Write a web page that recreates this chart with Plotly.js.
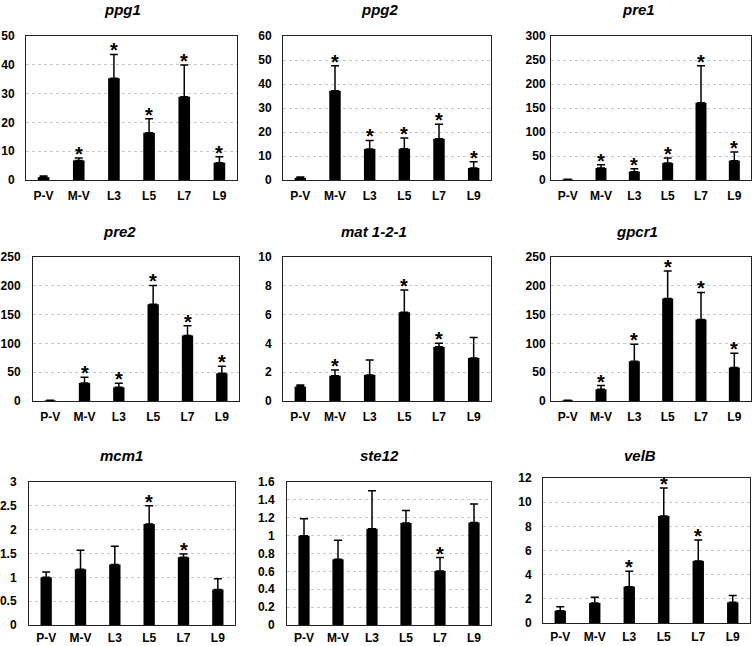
<!DOCTYPE html>
<html>
<head>
<meta charset="utf-8">
<script src="https://cdn.plot.ly/plotly-3.0.1.min.js"></script>
<style>html,body{margin:0;padding:0;background:#fff;}#chart{width:755px;height:646px;}</style>
</head>
<body>
<div id="chart"></div>
<script>
const categories = ['P-V', 'M-V', 'L3', 'L5', 'L7', 'L9'];
const genes = ['ppg1', 'ppg2', 'pre1', 'pre2', 'mat 1-2-1', 'gpcr1', 'mcm1', 'ste12', 'velB'];

const ppg1Mean = [1.0, 6.8, 35.3, 16.4, 28.9, 6.0];
const ppg1Err  = [0.4, 0.8, 8.3, 4.9, 11.0, 2.1];
const ppg1Sig  = [0, 1, 1, 1, 1, 1];

const ppg2Mean = [0.9, 37.2, 12.9, 13.0, 17.2, 5.0];
const ppg2Err  = [0.3, 10.4, 3.6, 4.5, 6.0, 2.6];
const ppg2Sig  = [0, 1, 1, 1, 1, 1];

const pre1Mean = [1.0, 25.0, 17.4, 35.4, 161, 40.3];
const pre1Err  = [0.5, 7.0, 6.2, 10.4, 77, 18];
const pre1Sig  = [0, 1, 1, 1, 1, 1];

const pre2Mean = [1.0, 31.3, 23.8, 168, 113.7, 48];
const pre2Err  = [0.5, 9.9, 6.9, 32.7, 16.8, 12.3];
const pre2Sig  = [0, 1, 1, 1, 1, 1];

const matMean = [1.0, 1.76, 1.81, 6.17, 3.76, 2.99];
const matErr  = [0.11, 0.40, 1.04, 1.53, 0.25, 1.42];
const matSig  = [0, 1, 0, 1, 1, 0];

const gpcr1Mean = [1.0, 20.3, 69, 178, 141.5, 58];
const gpcr1Err  = [0.5, 6.4, 29.6, 47.6, 47, 25];
const gpcr1Sig  = [0, 1, 1, 1, 1, 1];

const mcm1Mean = [1.0, 1.17, 1.27, 2.12, 1.42, 0.745];
const mcm1Err  = [0.11, 0.40, 0.38, 0.38, 0.07, 0.225];
const mcm1Sig  = [0, 0, 0, 1, 1, 0];

const ste12Mean = [1.0, 0.735, 1.077, 1.14, 0.605, 1.147];
const ste12Err  = [0.19, 0.212, 0.426, 0.14, 0.149, 0.208];
const ste12Sig  = [0, 0, 0, 0, 1, 0];

const velBMean = [1.02, 1.66, 3.01, 8.85, 5.14, 1.71];
const velBErr  = [0.33, 0.47, 1.28, 2.32, 1.72, 0.56];
const velBSig  = [0, 0, 1, 1, 1, 0];

const yMax  = [50, 60, 300, 250, 10, 250, 3, 1.6, 12];
const yStep = [10, 10, 50, 50, 2, 50, 0.5, 0.2, 2];

const means = [ppg1Mean, ppg2Mean, pre1Mean, pre2Mean, matMean, gpcr1Mean, mcm1Mean, ste12Mean, velBMean];
const errs  = [ppg1Err, ppg2Err, pre1Err, pre2Err, matErr, gpcr1Err, mcm1Err, ste12Err, velBErr];
const sigs  = [ppg1Sig, ppg2Sig, pre1Sig, pre2Sig, matSig, gpcr1Sig, mcm1Sig, ste12Sig, velBSig];

// layout: plot boxes in pixels [left, right, top, bottom]
const W = 755, H = 646;
const boxes = [
  [26, 237, 36, 180], [283, 491, 36, 180], [551, 751, 36, 180],
  [33, 239, 257, 401], [283, 491, 257, 401], [551, 751, 257, 401],
  [29, 235, 482, 625], [287, 491, 482, 625], [543, 750, 478, 623]
];
const titlePos = [
  [122, 10], [379, 10], [638, 10],
  [119, 232], [373.5, 232], [637, 232],
  [121.5, 455], [379.5, 455], [639.5, 455]
];
const yStandoff = [8, 8, 2, 9, 8, 2, 9, 9, 8];
const xStandoff = [5, 5, 5, 5, 5, 5, 2, 2, 3];

const FONT = 'Arial, "Liberation Sans", sans-serif';
const traces = [];
const layout = {
  width: W, height: H,
  margin: {l: 0, r: 0, t: 0, b: 0},
  paper_bgcolor: '#ffffff', plot_bgcolor: '#ffffff',
  showlegend: false,
  bargap: 0.67,
  font: {family: FONT, color: '#000'},
  annotations: []
};

genes.forEach((g, k) => {
  const n = k + 1;
  const xa = 'x' + (n === 1 ? '' : n), ya = 'y' + (n === 1 ? '' : n);
  traces.push({
    type: 'bar', x: categories, y: means[k],
    xaxis: xa, yaxis: ya,
    marker: {color: '#000000', line: {width: 0}},
    error_y: {type: 'data', symmetric: false, array: errs[k],
              arrayminus: errs[k].map(() => 0),
              color: '#000000', thickness: 1.5, width: 4},
    hoverinfo: 'x+y'
  });
  const b = boxes[k];
  layout['xaxis' + (n === 1 ? '' : n)] = {
    domain: [b[0] / W, b[1] / W], anchor: ya,
    type: 'category', showgrid: false, zeroline: false,
    showline: true, linecolor: '#222', linewidth: 1, mirror: true,
    ticks: '', ticklabelstandoff: xStandoff[k],
    tickfont: {family: FONT, size: 12, color: '#000', weight: 'bold'},
    fixedrange: true
  };
  layout['yaxis' + (n === 1 ? '' : n)] = {
    domain: [1 - b[3] / H, 1 - b[2] / H], anchor: xa,
    range: [0, yMax[k]], dtick: yStep[k], tick0: 0,
    showgrid: true, gridcolor: '#c8c8c8', griddash: 'dot', gridwidth: 1,
    zeroline: false, showline: true, linecolor: '#222', linewidth: 1, mirror: true,
    ticks: '', ticklabelstandoff: yStandoff[k],
    tickfont: {family: FONT, size: 12, color: '#000', weight: 'bold'},
    fixedrange: true
  };
  layout.annotations.push({
    text: '<b><i>' + g + '</i></b>', xref: 'paper', yref: 'paper',
    x: titlePos[k][0] / W, y: 1 - titlePos[k][1] / H,
    xanchor: 'center', yanchor: 'middle', showarrow: false,
    font: {family: FONT, size: 15, color: '#000'}
  });
  sigs[k].forEach((s, i) => {
    if (!s) return;
    layout.annotations.push({
      text: '<b>*</b>', xref: xa, yref: ya,
      x: categories[i], y: means[k][i] + errs[k][i],
      xanchor: 'center', yanchor: 'bottom', yshift: -9, showarrow: false,
      font: {family: FONT, size: 20, color: '#000'}
    });
  });
});

Plotly.newPlot('chart', traces, layout, {displayModeBar: false, staticPlot: true});
</script>
</body>
</html>
